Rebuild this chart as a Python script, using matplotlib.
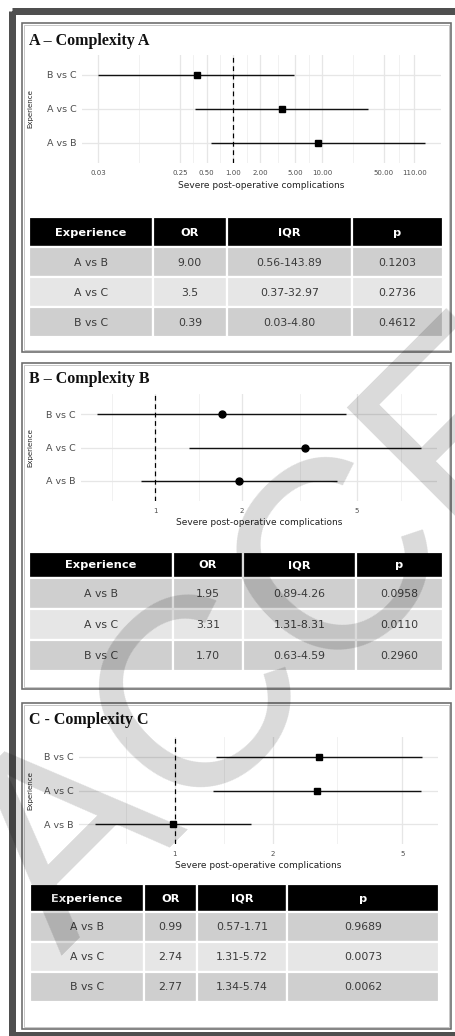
import numpy as np
import matplotlib
matplotlib.use("Agg")
import matplotlib.pyplot as plt
from matplotlib.patches import Rectangle

# ------------------------------------------------------------------ data
comparisons = ["A vs B", "A vs C", "B vs C"]

# Panel A - Complexity A
or_a = [9.00, 3.5, 0.39]
lo_a = [0.56, 0.37, 0.03]
hi_a = [143.89, 32.97, 4.80]
or_txt_a = ["9.00", "3.5", "0.39"]
iqr_txt_a = ["0.56-143.89", "0.37-32.97", "0.03-4.80"]
p_txt_a = ["0.1203", "0.2736", "0.4612"]
ticks_a = [0.03, 0.25, 0.50, 1.00, 2.00, 5.00, 10.00, 50.00, 110.00]
ticklabels_a = ["0.03", "0.25", "0.50", "1.00", "2.00", "5.00", "10.00", "50.00", "110.00"]

# Panel B - Complexity B
or_b = [1.95, 3.31, 1.70]
lo_b = [0.89, 1.31, 0.63]
hi_b = [4.26, 8.31, 4.59]
or_txt_b = ["1.95", "3.31", "1.70"]
iqr_txt_b = ["0.89-4.26", "1.31-8.31", "0.63-4.59"]
p_txt_b = ["0.0958", "0.0110", "0.2960"]
ticks_b = [1, 2, 5]
ticklabels_b = ["1", "2", "5"]

# Panel C - Complexity C
or_c = [0.99, 2.74, 2.77]
lo_c = [0.57, 1.31, 1.34]
hi_c = [1.71, 5.72, 5.74]
or_txt_c = ["0.99", "2.74", "2.77"]
iqr_txt_c = ["0.57-1.71", "1.31-5.72", "1.34-5.74"]
p_txt_c = ["0.9689", "0.0073", "0.0062"]
ticks_c = [1, 2, 5]
ticklabels_c = ["1", "2", "5"]

header = ["Experience", "OR", "IQR", "p"]
titles = ["A \u2013 Complexity A", "B \u2013 Complexity B", "C - Complexity C"]
xlabel = "Severe post-operative complications"
ylabel = "Experience"
watermark = "ACCEPTED"

# ------------------------------------------------------------------ figure
W, H = 455, 1036
DPI = 100
PT = 72.0 / DPI  # points per pixel

SANS = ["DejaVu Sans"]
SERIF = ["Liberation Serif", "DejaVu Serif"]

fig = plt.figure(figsize=(W / DPI, H / DPI), dpi=DPI)
fig.patch.set_facecolor("white")

bg = fig.add_axes([0, 0, 1, 1])
bg.set_xlim(0, W)
bg.set_ylim(H, 0)
bg.axis("off")

# outer dark frame (partly cropped on the right)
bg.add_patch(Rectangle((11.5, 10.5), 470, 1024, fill=False,
                       edgecolor="#4f4f4f", linewidth=7 * PT))

# panel boxes
for (y0, y1) in [(22.5, 351.5), (362.5, 689), (703, 1029)]:
    bg.add_patch(Rectangle((21.5, y0), 451 - 21.5, y1 - y0, fill=False,
                           edgecolor="#6a6a6a", linewidth=1.6 * PT))
    bg.add_patch(Rectangle((23.5, y0 + 2), 451 - 25.5, y1 - y0 - 4, fill=False,
                           edgecolor="#c8c8c8", linewidth=1.0 * PT))

# titles
for t, y in zip(titles, [41, 379, 720]):
    bg.text(29, y, t, fontsize=11.5, fontweight="bold", family=SERIF,
            ha="left", va="center", color="#111111")


def forest(x0, x1, ytop_cat, ybot_cat, ors, los, his, ticks, ticklabels, marker):
    sp = (ybot_cat - ytop_cat) / 2.0
    top = ytop_cat - 0.6 * sp
    bot = ybot_cat + 0.6 * sp
    ax = fig.add_axes([x0 / W, 1 - bot / H, (x1 - x0) / W, (bot - top) / H])
    ax.set_facecolor("none")
    ax.set_xscale("log")
    lmin = np.log10(min(los))
    lmax = np.log10(max(his))
    r = lmax - lmin
    lo_lim, hi_lim = lmin - 0.05 * r, lmax + 0.05 * r
    ax.set_xlim(10 ** lo_lim, 10 ** hi_lim)
    ax.set_ylim(0.4, 3.6)
    # grid: major + ggplot-like minor (midpoints in log space)
    lt = np.log10(ticks)
    bd = lt[1] - lt[0]
    ext = np.concatenate([[lt[0] - bd], lt, [lt[-1] + bd]])
    minors = (ext[:-1] + ext[1:]) / 2.0
    minors = minors[(minors > lo_lim) & (minors < hi_lim)]
    for m in minors:
        ax.axvline(10 ** m, color="#f0f0f0", linewidth=0.9 * PT, zorder=0)
    for t in ticks:
        ax.axvline(t, color="#e6e6e6", linewidth=1.3 * PT, zorder=0)
    ypos = np.arange(1, len(ors) + 1)
    for yy in ypos:
        ax.axhline(yy, color="#e6e6e6", linewidth=1.3 * PT, zorder=0)
    ax.hlines(ypos, los, his, color="#111111", linewidth=1.4 * PT, zorder=2)
    ax.plot(ors, ypos, linestyle="none", marker=marker, markersize=5,
            color="black", zorder=3)
    ax.axvline(1, color="black", linestyle=(0, (4, 3)), linewidth=1.2 * PT, zorder=2)
    ax.set_yticks(ypos)
    ax.set_yticklabels(comparisons, fontsize=6.8, color="#4d4d4d", family=SANS)
    ax.set_xticks(ticks)
    ax.set_xticklabels(ticklabels, fontsize=5, color="#4d4d4d", family=SANS)
    ax.minorticks_off()
    ax.tick_params(length=0, pad=4)
    ax.tick_params(axis="x", pad=5)
    for s in ax.spines.values():
        s.set_visible(False)
    ax.set_xlabel(xlabel, fontsize=6.5, color="#222222", family=SANS, labelpad=3)
    bg.text(30, (top + bot) / 2, ylabel, rotation=90, fontsize=5, family=SANS,
            ha="center", va="center", color="#222222")
    return ax


forest(82, 441, 75, 143, or_a, lo_a, hi_a, ticks_a, ticklabels_a, "s")
forest(81, 437, 414, 481, or_b, lo_b, hi_b, ticks_b, ticklabels_b, "o")
forest(79, 438, 757, 824, or_c, lo_c, hi_c, ticks_c, ticklabels_c, "s")


def table(top, hh, rh, cols, or_txt, iqr_txt, p_txt):
    rows = [header] + [[c, o, i, p] for c, o, i, p in zip(comparisons, or_txt, iqr_txt, p_txt)]
    fills = ["#000000", "#cfcfcf", "#e6e6e6", "#cfcfcf"]
    y = top
    for ri, row in enumerate(rows):
        h = hh if ri == 0 else rh
        for ci in range(4):
            xa, xb = cols[ci], cols[ci + 1]
            bg.add_patch(Rectangle((xa, y), xb - xa, h, facecolor=fills[ri],
                                   edgecolor="white", linewidth=2.2 * PT))
            if ri == 0:
                bg.text((xa + xb) / 2, y + h / 2 + 0.5, row[ci], fontsize=8.2,
                        fontweight="bold", color="white", family=SANS,
                        ha="center", va="center")
            else:
                bg.text((xa + xb) / 2, y + h / 2 + 0.5, row[ci], fontsize=7.8,
                        color="#3a3a3a", family=SANS, ha="center", va="center")
        y += h


table(217, 30, 30, [29, 153, 227, 352, 443], or_txt_a, iqr_txt_a, p_txt_a)
table(552, 26, 31, [29, 173, 243, 356, 443], or_txt_b, iqr_txt_b, p_txt_b)
table(884, 28, 30, [30, 144, 197, 287, 439], or_txt_c, iqr_txt_c, p_txt_c)

# watermark (diagonal, light grey, drawn over everything)
fig.text(61 / W, 1 - 956 / H, watermark, fontsize=194,
         family=["Liberation Sans", "DejaVu Sans"],
         rotation=45, rotation_mode="anchor", ha="left", va="baseline",
         color="black", alpha=0.15, zorder=50)

fig.savefig("out.png", dpi=DPI, facecolor="white")
